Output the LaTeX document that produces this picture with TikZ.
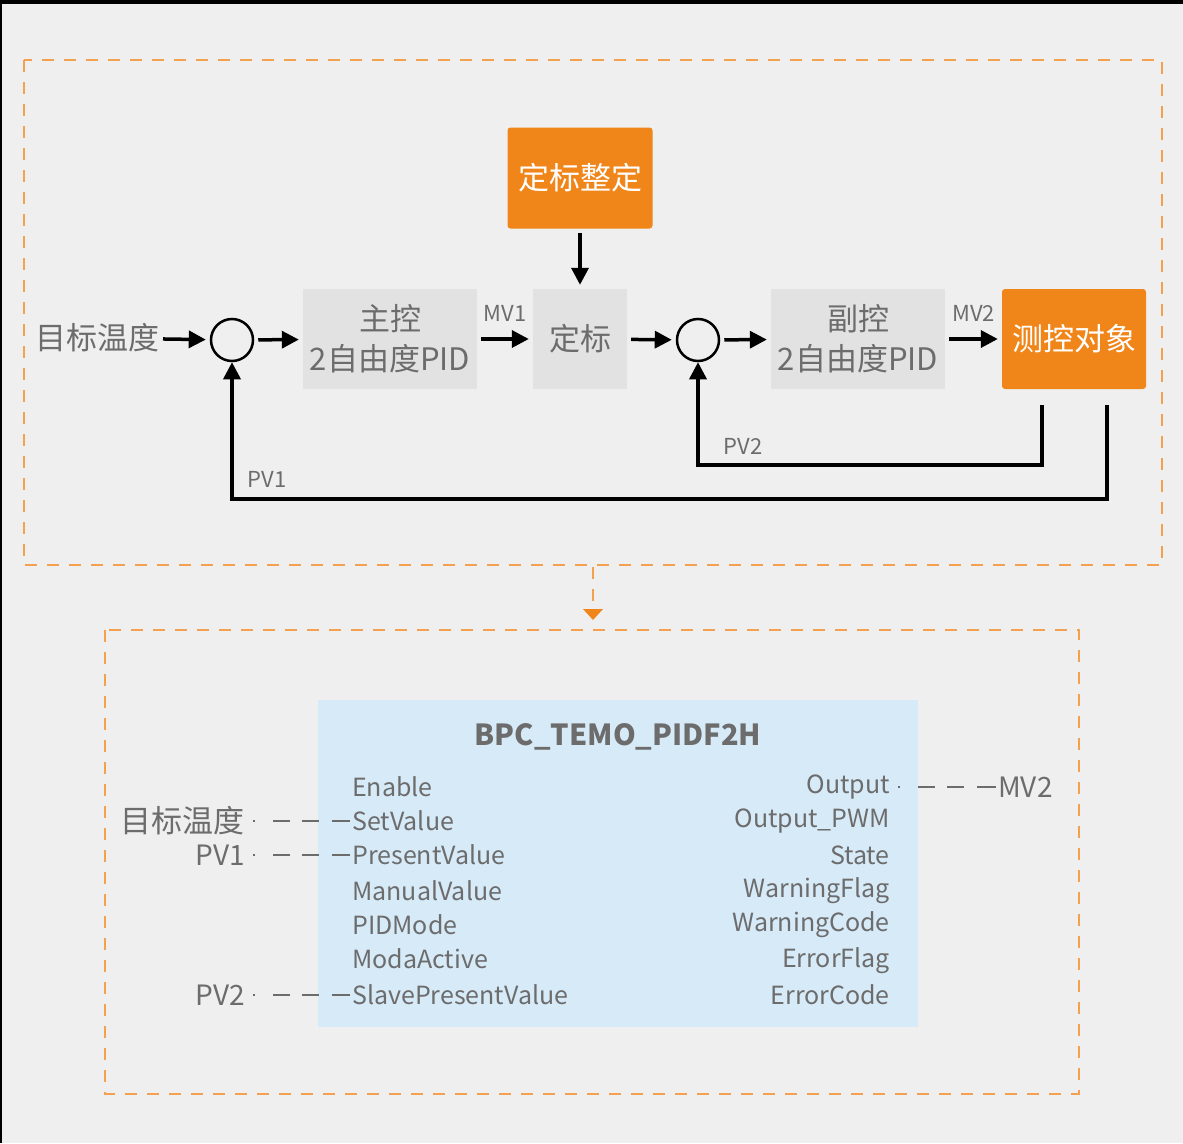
\documentclass[tikz,border=0pt]{standalone}
\usepackage{fontspec}
\setmainfont{Noto Sans CJK SC}
\usetikzlibrary{arrows.meta}

\tikzset{
  blk/.style={fill=pid_box,text=pid_txt,inner sep=0pt,align=center,font=\fontsize{31}{40}\selectfont},
  obj/.style={fill=pid_orange,text=white,rounded corners=3pt,inner sep=0pt,font=\fontsize{31}{36}\selectfont},
  sig/.style={line width=3.5pt,-{Triangle[length=17pt,width=17pt]},shorten >=4pt,shorten <=4pt},
  pin/.style={text=pid_txt,inner sep=0pt,font=\fontsize{25}{30}\selectfont},
  lbl/.style={text=pid_txt,font=\fontsize{22}{26}\selectfont},
  tie/.style={pid_txt,line width=2pt,dash pattern=on 2pt off 18pt on 17pt off 12pt on 17pt off 13pt on 30pt},
  frame/.style={pid_dash,line width=2.5pt,dash pattern=on 12pt off 10pt},
}

\begin{document}
\begin{tikzpicture}[x=1pt,y=-1pt]
\definecolor{pid_bg}{RGB}{239,239,239}     %#EFEFEF
\definecolor{pid_box}{RGB}{226,226,226}    %#E2E2E2
\definecolor{pid_txt}{RGB}{108,108,108}    %#6C6C6C
\definecolor{pid_orange}{RGB}{240,133,25}  %#F08519
\definecolor{pid_dash}{RGB}{243,160,80}    %#F3A050
\definecolor{pid_blue}{RGB}{215,234,248}   %#D7EAF8

\fill [pid_bg] (0,0) rectangle (1183,1143);
\useasboundingbox (0,0) rectangle (1183,1143);
\fill [black] (0,0) rectangle (1183,4);
\fill [black] (0,0) rectangle (2,1143);

% control loop
\draw [frame] (24,60) rectangle (1162,565);

\node [obj,minimum width=145pt,minimum height=101pt] (scal) at (580,178) {定标整定};
\node [blk,minimum width=174pt,minimum height=100pt] (main) at (390,339) {主控\\2自由度PID};
\node [blk,minimum width=94pt,minimum height=100pt]  (scale) at (580,339) {定标};
\node [blk,minimum width=174pt,minimum height=100pt] (slave) at (858,339) {副控\\2自由度PID};
\node [obj,minimum width=144pt,minimum height=100pt] (plant) at (1074,339) {测控对象};
\node [circle,draw=black,line width=2.5pt,minimum size=42pt,inner sep=0pt] (sum1) at (232,340) {};
\node [circle,draw=black,line width=2.5pt,minimum size=42pt,inner sep=0pt] (sum2) at (698,340) {};
\node [text=pid_txt,inner sep=2pt,anchor=east,font=\fontsize{31}{36}\selectfont] (sp) at (162,338) {目标温度};

\draw [sig,shorten <=1pt] (sp) -- (sum1);
\draw [sig] (sum1) -- (main);
\draw [sig] (main) -- node [lbl,above=12pt] {MV1} (scale);
\draw [sig] (scale) -- (sum2);
\draw [sig] (sum2) -- (slave);
\draw [sig] (slave) -- node [lbl,above=12pt] {MV2} (plant);
\draw [sig] (scal) -- (scale);

\draw [sig,shorten <=16pt,shorten >=0pt] ([xshift=-32pt]plant.south) -- ++(0,76) -| (sum2);
\draw [sig,shorten <=16pt,shorten >=0pt] ([xshift=33pt]plant.south) -- ++(0,110) -| (sum1);
\node [lbl] at (743,446) {PV2};
\node [lbl] at (267,479) {PV1};

% function block
\draw [frame] (593,567) -- (593,612);
\fill [pid_orange] (583,609) -- (603,609) -- (593,620) -- cycle;
\draw [frame] (105,630) rectangle (1079,1094);

\fill [pid_blue] (318,700) rectangle (918,1027);
\node [text=pid_txt,font=\fontsize{29}{34}\selectfont\bfseries] (fb) at (618,737) {BPC\_TEMO\_PIDF2H};

\foreach \name/\txt/\y in {en/Enable/787,sv/SetValue/821,pv/PresentValue/855,man/ManualValue/891,
    mode/PIDMode/925,moda/ModaActive/959,spv/SlavePresentValue/995}
  \node [pin,anchor=west] (\name) at (352,\y) {\txt};
\foreach \name/\txt/\y in {out/Output/787,pwm/Output\_PWM/821,st/State/855,wf/WarningFlag/891,
    wc/WarningCode/925,ef/ErrorFlag/961,ec/ErrorCode/995}
  \node [pin,anchor=east] (\name) at (890,\y) {\txt};

\node [pin,anchor=east,font=\fontsize{31}{36}\selectfont] (in1) at (245,821) {目标温度};
\node [pin,anchor=east,font=\fontsize{28}{32}\selectfont] (in2) at (245,855) {PV1};
\node [pin,anchor=east,font=\fontsize{28}{32}\selectfont] (in3) at (245,995) {PV2};
\node [pin,anchor=west,font=\fontsize{28}{32}\selectfont] (mv) at (998,787) {MV2};

\draw [tie] ([xshift=8pt]in1.east) -- ([xshift=-2pt]sv.west);
\draw [tie] ([xshift=8pt]in2.east) -- ([xshift=-2pt]pv.west);
\draw [tie] ([xshift=8pt]in3.east) -- ([xshift=-2pt]spv.west);
\draw [tie] ([xshift=8pt]out.east) -- ([xshift=-2pt]mv.west);
\end{tikzpicture}
\end{document}
